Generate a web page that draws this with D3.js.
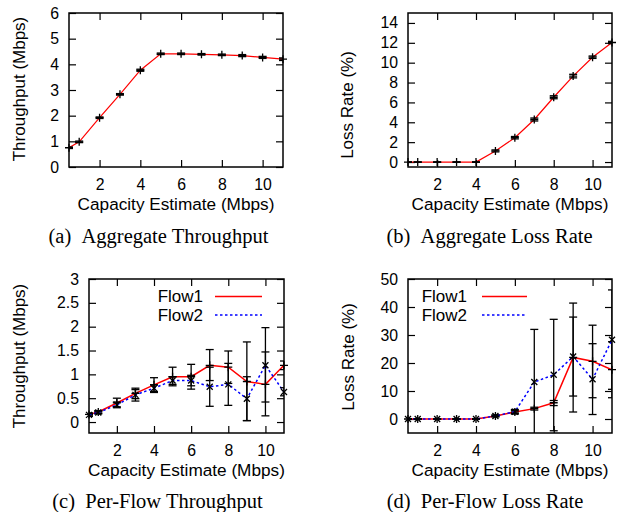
<!DOCTYPE html>
<html><head><meta charset="utf-8">
<script src="https://cdn.jsdelivr.net/npm/d3@7"></script>
<style>body{margin:0;background:#fff}</style>
</head><body><svg id="c" width="621" height="512"></svg>
<script>
// ---- data ----
const capacity = [0.5, 1, 2, 3, 4, 5, 6, 7, 8, 9, 10, 11];
const xTicks = [2, 4, 6, 8, 10];

const aggThroughput    = [0.75, 0.98, 1.92, 2.83, 3.77, 4.41, 4.41, 4.39, 4.37, 4.34, 4.27, 4.20];
const aggThroughputErr = [0.03, 0.03, 0.03, 0.03, 0.04, 0.03, 0.03, 0.03, 0.03, 0.04, 0.04, 0.05];

const aggLoss    = [0, 0, 0, 0, 0, 1.12, 2.45, 4.28, 6.52, 8.65, 10.55, 12.03];
const aggLossErr = [0, 0, 0, 0, 0, 0.10, 0.12, 0.15, 0.15, 0.18, 0.12, 0.12];

const flow1Tput   = [0.16, 0.21, 0.40, 0.60, 0.78, 0.95, 0.95, 1.19, 1.15, 0.85, 0.79, 1.19];
const flow1TputLo = [0.13, 0.18, 0.30, 0.49, 0.62, 0.76, 0.69, 0.87, 0.81, 0.03, 0.13, 1.10];
const flow1TputHi = [0.19, 0.24, 0.50, 0.71, 0.93, 1.15, 1.21, 1.52, 1.49, 1.68, 1.47, 1.28];
const flow2Tput   = [0.15, 0.20, 0.36, 0.57, 0.71, 0.87, 0.87, 0.74, 0.79, 0.49, 1.19, 0.63];
const flow2TputLo = [0.12, 0.17, 0.32, 0.44, 0.64, 0.79, 0.76, 0.33, 0.35, 0.03, 0.42, 0.55];
const flow2TputHi = [0.18, 0.23, 0.42, 0.68, 0.78, 0.95, 0.98, 1.15, 1.23, 0.95, 1.98, 0.72];

const flow1Loss   = [0, 0, 0, 0, 0, 1.1, 2.5, 3.7, 5.8, 22.0, 20.6, 17.6];
const flow1LossLo = [0, 0, 0, 0, 0, 0.8, 1.9, 3.2, 4.8, 2.5, 7.6, 7.6];
const flow1LossHi = [0, 0, 0, 0, 0, 1.4, 3.1, 4.2, 6.6, 41.4, 33.5, 27.6];
const flow2Loss   = [0, 0, 0, 0, 0, 1.1, 2.6, 13.2, 15.8, 22.3, 14.2, 28.3];
const flow2LossLo = [0, 0, 0, 0, 0, 0.8, 1.8, -5.6, -4.2, 8.2, 1.6, 10.6];
const flow2LossHi = [0, 0, 0, 0, 0, 1.4, 3.4, 32.0, 35.6, 36.4, 26.9, 46.1];

const ticksA = [0, 1, 2, 3, 4, 5, 6];
const ticksB = [0, 2, 4, 6, 8, 10, 12, 14];
const ticksC = [0, 0.5, 1, 1.5, 2, 2.5, 3];
const ticksD = [0, 10, 20, 30, 40, 50];

// ---- drawing ----
const SANS = "'Liberation Sans', Arial, Helvetica, sans-serif";
const SERIF = "'Liberation Serif', 'Times New Roman', serif";
const svg = d3.select("#c");
svg.append("rect").attr("width", 621).attr("height", 512).attr("fill", "#fff");
let clipN = 0;

function panel(o) {
  const x = d3.scaleLinear().domain([0.5, 11]).range([o.left, o.right]);
  const y = d3.scaleLinear().domain(o.ydom).range([o.bottom, o.top]);
  const g = svg.append("g");
  const cid = "clip" + (clipN++);
  svg.append("defs").append("clipPath").attr("id", cid).append("rect")
    .attr("x", o.left).attr("y", o.top).attr("width", o.right - o.left).attr("height", o.bottom - o.top);

  const styleAxis = sel => {
    sel.select(".domain").remove();
    sel.selectAll("line").attr("stroke", "#000").attr("stroke-width", 1.2);
    sel.selectAll("text").attr("font-family", SANS).attr("font-size", 15.8).attr("fill", "#000");
  };
  g.append("g").attr("transform", `translate(${o.left},0)`)
    .call(d3.axisLeft(y).tickValues(o.yticks).tickFormat(d3.format("~g")).tickSize(-7).tickPadding(10)).call(styleAxis);
  g.append("g").attr("transform", `translate(${o.right},0)`)
    .call(d3.axisRight(y).tickValues(o.yticks).tickFormat("").tickSize(-7)).call(styleAxis);
  g.append("g").attr("transform", `translate(0,${o.bottom})`)
    .call(d3.axisBottom(x).tickValues(xTicks).tickFormat(d3.format("d")).tickSize(-7).tickPadding(12)).call(styleAxis);
  g.append("g").attr("transform", `translate(0,${o.top})`)
    .call(d3.axisTop(x).tickValues(xTicks).tickFormat("").tickSize(-7)).call(styleAxis);

  g.append("rect").attr("x", o.left).attr("y", o.top)
    .attr("width", o.right - o.left).attr("height", o.bottom - o.top)
    .attr("fill", "none").attr("stroke", "#000").attr("stroke-width", 1.5);

  o.series.forEach(s => {
    const pts = capacity.map((c, i) => ({ c, v: s.vals[i], lo: s.lo[i], hi: s.hi[i] }));
    const cl = g.append("g").attr("clip-path", `url(#${cid})`);
    cl.append("path").datum(pts)
      .attr("d", d3.line().x(d => x(d.c)).y(d => y(d.v)))
      .attr("fill", "none").attr("stroke", s.color).attr("stroke-width", s.width)
      .attr("stroke-dasharray", s.dash || null);
    const eb = cl.selectAll(null).data(pts).enter().append("g");
    eb.append("line").attr("x1", d => x(d.c)).attr("x2", d => x(d.c))
      .attr("y1", d => y(d.lo)).attr("y2", d => y(d.hi)).attr("stroke", "#000").attr("stroke-width", 1.3);
    ["lo", "hi"].forEach(k => eb.append("line")
      .attr("x1", d => x(d.c) - 4).attr("x2", d => x(d.c) + 4)
      .attr("y1", d => y(d[k])).attr("y2", d => y(d[k])).attr("stroke", "#000").attr("stroke-width", 1.3));
    g.selectAll(null).data(pts).enter().append("path")
      .attr("transform", d => `translate(${x(d.c)},${y(d.v)})`)
      .attr("d", s.marker === "plus" ? "M-4,0H4M0,-4V4" : "M-3,-3L3,3M-3,3L3,-3")
      .attr("stroke", "#000").attr("stroke-width", 1.3).attr("fill", "none");
  });

  if (o.legend) {
    o.series.forEach((s, i) => {
      const ly = o.legend.y + i * 18.5;
      g.append("text").attr("x", o.legend.textEnd).attr("y", ly).attr("dy", "0.35em")
        .attr("text-anchor", "end").attr("font-family", SANS).attr("font-size", 17).text(s.name);
      g.append("line").attr("x1", o.legend.l1).attr("x2", o.legend.l2).attr("y1", ly).attr("y2", ly)
        .attr("stroke", s.color).attr("stroke-width", s.width).attr("stroke-dasharray", s.dash || null);
    });
  }

  g.append("text").attr("transform", `translate(${o.ylabX},${o.ylabY}) rotate(-90)`)
    .attr("text-anchor", "middle").attr("dy", "0.35em")
    .attr("font-family", SANS).attr("font-size", 17).text(o.ylabel);
  g.append("text").attr("x", (o.left + o.right) / 2).attr("y", o.bottom + 36.5).attr("dy", "0.35em")
    .attr("text-anchor", "middle").attr("font-family", SANS).attr("font-size", 17.2).text("Capacity Estimate (Mbps)");
  g.append("text").attr("x", o.capX).attr("y", o.bottom + o.capDy)
    .attr("text-anchor", "middle").attr("font-family", SERIF).attr("font-size", 20.5)
    .style("white-space", "pre").text(o.caption);
}

const red = "#ff0000", blue = "#0000ff";

panel({ left: 69, right: 283, top: 13, bottom: 167, ydom: [0, 6], yticks: ticksA,
  ylabel: "Throughput (Mbps)", ylabX: 19.5, ylabY: 89, capX: 158.5, capDy: 76,
  caption: "(a)\u00a0\u00a0Aggregate Throughput",
  series: [{ name: "", vals: aggThroughput, lo: aggThroughput.map((v, i) => v - aggThroughputErr[i]),
    hi: aggThroughput.map((v, i) => v + aggThroughputErr[i]), color: red, width: 1.2, marker: "plus" }] });

panel({ left: 408, right: 612, top: 13, bottom: 167, ydom: [-0.5, 15], yticks: ticksB,
  ylabel: "Loss Rate (%)", ylabX: 347.5, ylabY: 105, capX: 489.5, capDy: 76,
  caption: "(b)\u00a0\u00a0Aggregate Loss Rate",
  series: [{ name: "", vals: aggLoss, lo: aggLoss.map((v, i) => v - aggLossErr[i]),
    hi: aggLoss.map((v, i) => v + aggLossErr[i]), color: red, width: 1.2, marker: "plus" }] });

panel({ left: 89, right: 284, top: 279, bottom: 433, ydom: [-0.23, 3], yticks: ticksC,
  ylabel: "Throughput (Mbps)", ylabX: 19.5, ylabY: 356, capX: 157.5, capDy: 74.5,
  caption: "(c)\u00a0\u00a0Per-Flow Throughput",
  legend: { y: 296.5, textEnd: 203, l1: 215, l2: 262 },
  series: [
    { name: "Flow1", vals: flow1Tput, lo: flow1TputLo, hi: flow1TputHi, color: red, width: 1.5, marker: "plus" },
    { name: "Flow2", vals: flow2Tput, lo: flow2TputLo, hi: flow2TputHi, color: blue, width: 1.5, dash: "2.5,2.5", marker: "x" }] });

panel({ left: 408, right: 612, top: 279, bottom: 433, ydom: [-5, 50], yticks: ticksD,
  ylabel: "Loss Rate (%)", ylabX: 348, ylabY: 357, capX: 485, capDy: 74.5,
  caption: "(d)\u00a0\u00a0Per-Flow Loss Rate",
  legend: { y: 296.5, textEnd: 467, l1: 482, l2: 527 },
  series: [
    { name: "Flow1", vals: flow1Loss, lo: flow1LossLo, hi: flow1LossHi, color: red, width: 1.5, marker: "plus" },
    { name: "Flow2", vals: flow2Loss, lo: flow2LossLo, hi: flow2LossHi, color: blue, width: 1.5, dash: "2.5,2.5", marker: "x" }] });
</script></body></html>
